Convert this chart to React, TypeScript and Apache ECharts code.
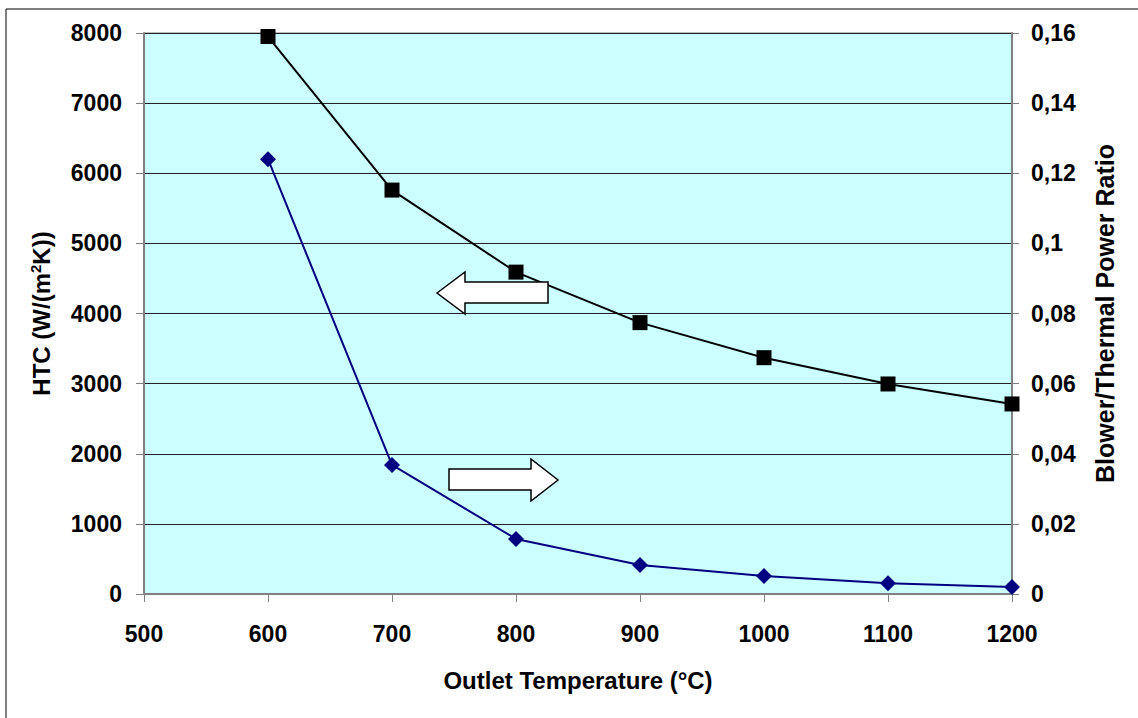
import React, { useEffect, useRef } from "react";
import * as echarts from "echarts";

const temperatures = [600, 700, 800, 900, 1000, 1100, 1200];
const htcValues = [7950, 5760, 4590, 3870, 3370, 2995, 2710];
const powerRatio = [0.124, 0.0368, 0.0157, 0.0083, 0.0051, 0.0031, 0.002];

const xTitle = "Outlet Temperature (°C)";
const rightTitle = "Blower/Thermal Power Ratio";

export default function App() {
  const ref = useRef<HTMLDivElement>(null);
  useEffect(() => {
    document.body.style.margin = "0";
    const chart = echarts.init(ref.current!, null, { renderer: "svg" });
    const font = "'Liberation Sans', Arial, sans-serif";
    const tickLabel = { fontFamily: font, fontWeight: "bold" as const, fontSize: 23, color: "#000" };
    const titleStyle = { fontFamily: font, fontWeight: "bold" as const, fontSize: 24, color: "#000" };
    chart.setOption({
      animation: false,
      backgroundColor: "#fff",
      grid: { left: 144, right: 126, top: 33, bottom: 124, show: true, backgroundColor: "#ccffff", borderColor: "#808080", borderWidth: 1 },
      xAxis: {
        type: "value",
        min: 500,
        max: 1200,
        interval: 100,
        name: xTitle,
        nameLocation: "middle",
        nameGap: 74,
        nameTextStyle: { ...titleStyle, verticalAlign: "top" },
        axisLine: { show: true, lineStyle: { color: "#808080", width: 2 } },
        axisTick: { show: true, length: 8, lineStyle: { color: "#808080" } },
        axisLabel: { ...tickLabel, margin: 28, formatter: (v: number) => String(v) },
        splitLine: { show: false },
      },
      yAxis: [
        {
          type: "value",
          min: 0,
          max: 8000,
          interval: 1000,
          name: "{n|HTC (W/(m}{s|2}{n|K))}",
          nameLocation: "middle",
          nameGap: 90,
          nameRotate: 90,
          nameTextStyle: {
            ...titleStyle,
            rich: {
              n: { ...titleStyle },
              s: { ...titleStyle, fontSize: 15, verticalAlign: "bottom", padding: [0, 0, 11, 0] },
            },
          },
          axisLine: { show: true, lineStyle: { color: "#808080", width: 2 } },
          axisTick: { show: true, length: 8, lineStyle: { color: "#808080" } },
          axisLabel: { ...tickLabel, margin: 22, formatter: (v: number) => String(v) },
          splitLine: { show: true, lineStyle: { color: "#222", width: 1 } },
        },
        {
          type: "value",
          min: 0,
          max: 0.16,
          interval: 0.02,
          position: "right",
          name: rightTitle,
          nameLocation: "middle",
          nameGap: 80,
          nameRotate: 90,
          nameTextStyle: { ...titleStyle, fontSize: 25 },
          axisLine: { show: true, lineStyle: { color: "#808080", width: 2 } },
          axisTick: { show: true, length: 7, lineStyle: { color: "#808080" } },
          axisLabel: {
            ...tickLabel,
            margin: 19,
            formatter: (v: number) => String(Math.round(v * 1000) / 1000).replace(".", ","),
          },
          splitLine: { show: false },
        },
      ],
      series: [
        {
          name: "HTC",
          type: "line",
          yAxisIndex: 0,
          data: temperatures.map((t, i) => [t, htcValues[i]]),
          symbol: "rect",
          symbolSize: 15,
          lineStyle: { color: "#000", width: 2 },
          itemStyle: { color: "#000" },
          z: 3,
        },
        {
          name: "Power ratio",
          type: "line",
          yAxisIndex: 1,
          data: temperatures.map((t, i) => [t, powerRatio[i]]),
          symbol: "diamond",
          symbolSize: 16,
          lineStyle: { color: "#000080", width: 2 },
          itemStyle: { color: "#000080" },
          z: 2,
        },
      ],
      graphic: [
        {
          type: "rect",
          shape: { x: 6, y: 9, width: 1200, height: 800 },
          style: { fill: "none", stroke: "#000", lineWidth: 1 },
          silent: true,
          z: 100,
        },
        {
          type: "polygon",
          shape: { points: [[437, 293], [465, 272], [465, 282], [548, 282], [548, 303], [465, 303], [465, 314]] },
          style: { fill: "#fff", stroke: "#000", lineWidth: 1.5 },
          z: 100,
        },
        {
          type: "polygon",
          shape: { points: [[449, 469], [531, 469], [531, 459], [558, 480], [531, 501], [531, 490], [449, 490]] },
          style: { fill: "#fff", stroke: "#000", lineWidth: 1.5 },
          z: 100,
        },
      ],
    });
    return () => chart.dispose();
  }, []);
  return <div ref={ref} style={{ position: "absolute", left: 0, top: 0, width: 1138, height: 718 }} />;
}
